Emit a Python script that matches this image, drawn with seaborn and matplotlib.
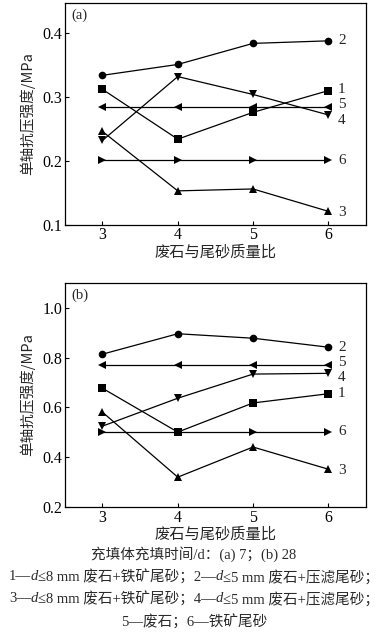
import matplotlib
matplotlib.use("Agg")
import matplotlib.pyplot as plt
import seaborn as sns
import pandas as pd

sns.set_style("ticks")
plt.rcParams['font.family'] = ['Liberation Serif', 'Noto Sans CJK SC']
plt.rcParams['axes.unicode_minus'] = False

ratio = [3, 4, 5, 6]
series_ids = ['1', '2', '3', '4', '5', '6']
markers = ['s', 'o', '^', 'v', '<', '>']

# 7 d strength, MPa
strength_7d = {
    '1': [0.312, 0.234, 0.276, 0.310],
    '2': [0.334, 0.351, 0.384, 0.388],
    '3': [0.246, 0.153, 0.156, 0.121],
    '4': [0.232, 0.332, 0.304, 0.272],
    '5': [0.284, 0.284, 0.284, 0.284],
    '6': [0.201, 0.201, 0.201, 0.201],
}
# 28 d strength, MPa
strength_28d = {
    '1': [0.677, 0.501, 0.618, 0.655],
    '2': [0.814, 0.896, 0.878, 0.842],
    '3': [0.581, 0.320, 0.441, 0.352],
    '4': [0.525, 0.637, 0.734, 0.737],
    '5': [0.770, 0.770, 0.770, 0.770],
    '6': [0.500, 0.500, 0.500, 0.500],
}
# y positions of the end labels
label_y_7d = {'1': 0.312, '2': 0.388, '3': 0.119, '4': 0.264, '5': 0.289, '6': 0.201}
label_y_28d = {'1': 0.654, '2': 0.840, '3': 0.346, '4': 0.719, '5': 0.781, '6': 0.505}

xlabel = '废石与尾砂质量比'
ylabel = '单轴抗压强度/MPa'

fig = plt.figure(figsize=(3.86, 6.33), dpi=100)
ax_a = fig.add_axes([0.168, 0.645, 0.780, 0.350])
ax_b = fig.add_axes([0.168, 0.199, 0.780, 0.354])


def draw_panel(ax, data, label_y, ylim, yticks, tag):
    for sid, m in zip(series_ids, markers):
        df = pd.DataFrame({'x': ratio, 'y': data[sid]})
        sns.lineplot(data=df, x='x', y='y', ax=ax, color='black', lw=0.9,
                     marker=m, markersize=5.5, markeredgewidth=0,
                     markerfacecolor='black')
        ax.text(6.13, label_y[sid], sid, fontsize=11, va='center', ha='left',
                family='Liberation Serif')
    ax.set_xlim(2.5, 6.5)
    ax.set_ylim(*ylim)
    ax.set_xticks(ratio)
    ax.set_yticks(yticks)
    ax.set_yticklabels([f'{t:.1f}' for t in yticks])
    ax.tick_params(direction='in', length=3, width=0.8, labelsize=11.5,
                   colors='black', pad=2)
    for s in ax.spines.values():
        s.set_visible(True)
        s.set_linewidth(0.9)
        s.set_color('black')
    ax.set_xlabel(xlabel, fontsize=11, labelpad=0, fontweight='medium',
                  family=['Noto Sans CJK SC'])
    ax.set_ylabel(ylabel, fontsize=10.5, labelpad=5,
                  family=['Noto Sans CJK SC', 'Liberation Serif'])
    ax.text(0.022, 0.975, tag, transform=ax.transAxes, fontsize=10.5,
            va='top', ha='left')


draw_panel(ax_a, strength_7d, label_y_7d, (0.1, 0.447), [0.1, 0.2, 0.3, 0.4], '(a)')
draw_panel(ax_b, strength_28d, label_y_28d, (0.2, 1.1), [0.2, 0.4, 0.6, 0.8, 1.0], '(b)')

# caption lines, built from segments so that d can be italic
renderer = fig.canvas.get_renderer()
cap_color = '#2a2a2a'


def caption_line(y_px, segments, size=10.5):
    H = fig.bbox.height
    items = []
    x = 0
    for txt, style in segments:
        fam = ['Liberation Serif', 'Noto Sans CJK SC']
        t = fig.text(x / fig.bbox.width, 1 - y_px / H, txt, fontsize=size,
                     style=style, family=fam, va='center', ha='left',
                     color=cap_color)
        w = t.get_window_extent(renderer).width
        items.append((t, x))
        x += w
    shift = (fig.bbox.width - x) / 2 + 1
    for t, x0 in items:
        t.set_x((x0 + shift) / fig.bbox.width)


caption_line(554, [('充填体充填时间/d：(a) 7；(b) 28', 'normal')])
caption_line(577, [('1—', 'normal'), ('d', 'italic'), ('≤8 mm 废石+铁矿尾砂；2—', 'normal'),
                   ('d', 'italic'), ('≤5 mm 废石+压滤尾砂；', 'normal')])
caption_line(599, [('3—', 'normal'), ('d', 'italic'), ('≤8 mm 废石+铁矿尾砂；4—', 'normal'),
                   ('d', 'italic'), ('≤5 mm 废石+压滤尾砂；', 'normal')])
caption_line(622, [('5—废石；6—铁矿尾砂', 'normal')])

fig.savefig('out.png', dpi=100)
